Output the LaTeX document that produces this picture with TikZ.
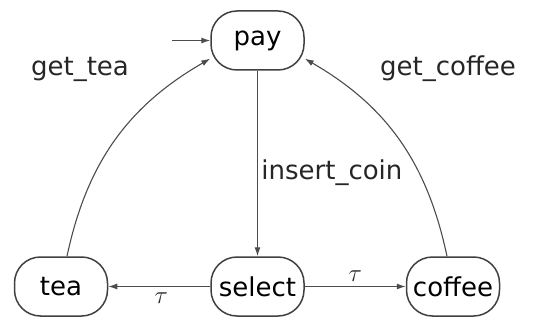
\documentclass[tikz,border=0pt]{standalone}
\usepackage{fontspec}
\setmainfont{DejaVu Sans}
\usetikzlibrary{positioning}
\usetikzlibrary{arrows.meta}

\tikzset{
  statebox/.style={draw=black!75, line width=1.5pt, rounded corners=26pt,
    minimum width=93pt, minimum height=59pt, inner sep=2pt,
    font=\fontsize{26}{30}\selectfont},
  trans/.style={draw=black!70, line width=1.1pt, -{Latex[length=9pt,width=6pt]}},
  lbl/.style={font=\fontsize{26}{30}\selectfont, text=black!85},
  taulbl/.style={font=\fontsize{34}{38}\selectfont, text=black!85, inner sep=1pt}
}

\begin{document}
\begin{tikzpicture}[x=1pt, y=1pt]
  \useasboundingbox (0,0) rectangle (534,-320);

  % states
  \node[statebox] (pay) at (257.5,-40.5) {pay};
  \node[statebox] (select) at (257.5,-286.5) {select};
  \node[statebox] (tea) at (61,-286.5) {tea};
  \node[statebox] (coffee) at (453,-286.5) {coffee};
  \coordinate (start) at (172,-40.5);

  % transitions
  \draw[trans] (start) -- (pay);
  \draw[trans] (pay) -- node[lbl, right, pos=0.55] (coinlbl) {insert\_coin} (select);
  \draw[trans] (select) -- node[taulbl, below=5pt, pos=0.48] (tauleft) {$\tau$} (tea);
  \draw[trans] (select) -- node[taulbl, above=3pt] (tauright) {$\tau$} (coffee);
  \draw[trans] ([xshift=6pt]tea.north) to[out=78, in=210] (pay.201);
  \draw[trans] ([xshift=-6pt]coffee.north) to[out=102, in=-30] (pay.339);

  \node[lbl] (tealbl) at (80,-69) {get\_tea};
  \node[lbl] (coffeelbl) at (448,-69) {get\_coffee};
\end{tikzpicture}
\end{document}
